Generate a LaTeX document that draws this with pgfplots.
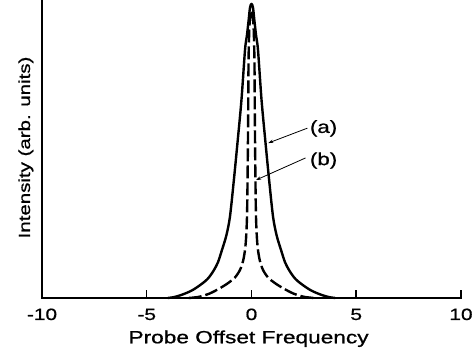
\documentclass[border=0pt]{standalone}
\usepackage{pgfplots}
\pgfplotsset{compat=1.18}
\usetikzlibrary{arrows.meta}
\usepackage{fontspec}
\setmainfont{Liberation Sans}[FakeStretch=1.28, FakeBold=0.8]

\pgfplotstableread{
x y
-4.0 0.0
-3.7 0.003
-3.4 0.009
-3.1 0.017
-2.8 0.027
-2.5 0.041
-2.2 0.057
-2.0 0.072
-1.79 0.094
-1.6 0.12
-1.41 0.161
-1.2 0.21
-1.03 0.272
-0.85 0.39
-0.67 0.520
-0.48 0.664
-0.31 0.832
-0.22 0.88
-0.14 0.93
-0.07 0.975
0 0.987
0.07 0.975
0.14 0.93
0.22 0.88
0.31 0.832
0.48 0.664
0.67 0.520
0.85 0.39
1.03 0.272
1.2 0.21
1.41 0.161
1.6 0.12
1.79 0.094
2.0 0.072
2.2 0.057
2.5 0.041
2.8 0.027
3.1 0.017
3.4 0.009
3.7 0.003
4.0 0.0
}\curvea

\pgfplotstableread{
x y
-3.0 0.0
-2.5 0.004
-2.0 0.015
-1.5 0.033
-1.12 0.050
-0.8 0.068
-0.55 0.094
-0.40 0.125
-0.31 0.161
-0.26 0.20
-0.22 0.26
-0.20 0.33
-0.18 0.45
-0.16 0.60
-0.14 0.80
-0.10 0.91
-0.05 0.95
0 0.966
0.05 0.95
0.10 0.91
0.14 0.80
0.16 0.60
0.18 0.45
0.20 0.33
0.22 0.26
0.26 0.20
0.31 0.161
0.40 0.125
0.55 0.094
0.8 0.068
1.12 0.050
1.5 0.033
2.0 0.015
2.5 0.004
3.0 0.0
}\curveb

\begin{document}
\begin{tikzpicture}[x=1pt,y=1pt]
\useasboundingbox (-42,-58) rectangle (430,298);
\begin{axis}[
  at={(0,0)}, anchor=south west,
  scale only axis, width=419pt, height=298pt,
  xmin=-10, xmax=10, ymin=0, ymax=1,
  axis x line=bottom, axis y line=left,
  axis line style={-, line width=1.5pt, line cap=rect},
  xtick={-10,-5,0,5,10}, xticklabels={-10,-5,0,5,10},
  ytick=\empty,
  tick align=inside, major tick length=8pt,
  tick style={line width=1.5pt, black},
  xticklabel style={font=\fontsize{16.3}{18}\selectfont, anchor=base, yshift=-22pt},
  xlabel={Probe Offset Frequency},
  xlabel style={font=\fontsize{17.7}{20}\selectfont, at={([yshift=-45.3pt]axis description cs:0.493,0)}, anchor=base},
  ylabel={Intensity (arb. units)},
  ylabel style={font=\fontsize{16}{18}\selectfont, at={([xshift=-12pt]axis description cs:0,0.505)}, anchor=base},
  clip=false,
]
\addplot[black, line width=2.4pt, smooth, line join=round] table[x=x,y=y] {\curvea};
\addplot[black, line width=2.4pt, smooth, line join=round, dash pattern=on 13pt off 4pt] table[x=x,y=y] {\curveb};
\node[font=\fontsize{17.5}{20}\selectfont, anchor=base] at (axis cs:3.44,0.554) {(a)};
\node[font=\fontsize{17.5}{20}\selectfont, anchor=base] at (axis cs:3.44,0.446) {(b)};
\draw[line width=0.8pt, -{Stealth[length=5pt,width=3.5pt]}] (axis cs:2.67,0.570) -- (axis cs:0.80,0.520);
\draw[line width=0.8pt, -{Stealth[length=5pt,width=3.5pt]}] (axis cs:2.58,0.470) -- (axis cs:0.22,0.396);
\end{axis}
\end{tikzpicture}
\end{document}
